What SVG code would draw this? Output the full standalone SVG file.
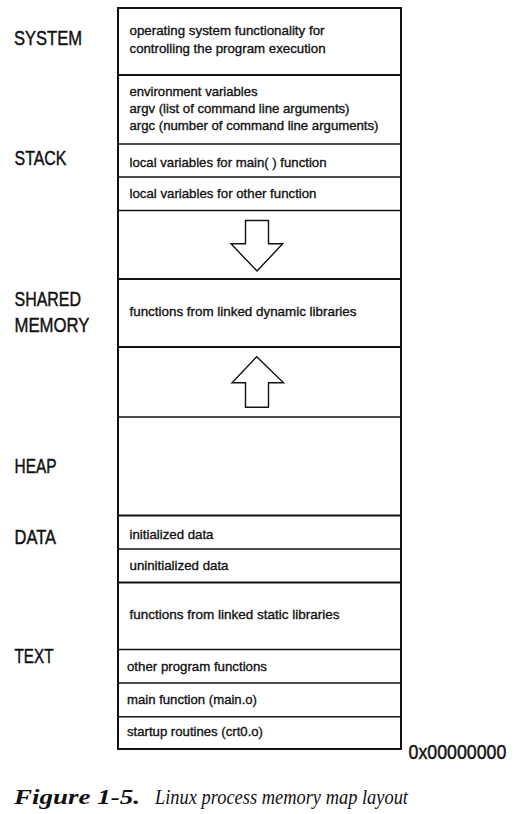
<svg xmlns="http://www.w3.org/2000/svg" width="519" height="814" viewBox="0 0 519 814">
<style>
.bg{fill:#fff}
.frame{fill:none;stroke:#111;stroke-width:2}
.thick{stroke:#111;stroke-width:2;fill:none}
.thin{stroke:#111;stroke-width:1.4;fill:none}
.t{font-family:"Liberation Sans",Arial,sans-serif;font-size:13.6px;fill:#111;stroke:#111;stroke-width:0.35}
.lbl{font-family:"Liberation Sans",Arial,sans-serif;font-size:20.8px;fill:#111;stroke:#111;stroke-width:0.45}
.arrow{fill:#fff;stroke:#111;stroke-width:1.4;stroke-linejoin:miter}
.cap{font-family:"Liberation Serif","Times New Roman",serif;font-size:20.5px;fill:#111;font-style:italic}
</style>
<rect class="bg" x="0" y="0" width="519" height="814"/>

<g id="labels">
<text class="lbl" x="14" y="45" textLength="68" lengthAdjust="spacingAndGlyphs">SYSTEM</text>
<text class="lbl" x="14.5" y="165" textLength="52" lengthAdjust="spacingAndGlyphs">STACK</text>
<text class="lbl" x="14.5" y="306" textLength="66.5" lengthAdjust="spacingAndGlyphs">SHARED</text>
<text class="lbl" x="14.5" y="331.5" textLength="75" lengthAdjust="spacingAndGlyphs">MEMORY</text>
<text class="lbl" x="14.5" y="472.5" textLength="42" lengthAdjust="spacingAndGlyphs">HEAP</text>
<text class="lbl" x="14.5" y="544" textLength="41.5" lengthAdjust="spacingAndGlyphs">DATA</text>
<text class="lbl" x="14.5" y="662.5" textLength="39" lengthAdjust="spacingAndGlyphs">TEXT</text>
<text class="lbl" transform="translate(408.5,759) scale(0.855,1)" x="0" y="0">0x00000000</text>
</g>

<g id="memory-map">
<rect class="frame" x="118" y="8" width="283" height="741"/>
</g>

<g id="system">
<text class="t" x="129.5" y="35" textLength="195" lengthAdjust="spacingAndGlyphs">operating system functionality for</text>
<text class="t" x="129.5" y="52.5" textLength="196" lengthAdjust="spacingAndGlyphs">controlling the program execution</text>
</g>

<g id="stack-env">
<line class="thick" x1="118" y1="75" x2="401" y2="75"/>
<text class="t" x="129.5" y="95.5" textLength="128" lengthAdjust="spacingAndGlyphs">environment variables</text>
<text class="t" x="129.5" y="112.5" textLength="220" lengthAdjust="spacingAndGlyphs">argv (list of command line arguments)</text>
<text class="t" x="129.5" y="129.8" textLength="249" lengthAdjust="spacingAndGlyphs">argc (number of command line arguments)</text>
</g>

<g id="stack-main">
<line class="thin" x1="118" y1="144" x2="401" y2="144"/>
<text class="t" x="129.5" y="167" textLength="197" lengthAdjust="spacingAndGlyphs">local variables for main( ) function</text>
</g>

<g id="stack-other">
<line class="thin" x1="118" y1="177" x2="401" y2="177"/>
<text class="t" x="129.5" y="198" textLength="187" lengthAdjust="spacingAndGlyphs">local variables for other function</text>
</g>

<g id="stack-growth">
<line class="thin" x1="118" y1="210.5" x2="401" y2="210.5"/>
<polygon class="arrow" points="245.5,220.5 268.5,220.5 268.5,243.8 282.7,243.8 257,271 231,243.8 245.5,243.8"/>
</g>

<g id="shared-memory">
<line class="thick" x1="118" y1="279" x2="401" y2="279"/>
<text class="t" x="129.5" y="316" textLength="227" lengthAdjust="spacingAndGlyphs">functions from linked dynamic libraries</text>
</g>

<g id="heap-growth">
<line class="thick" x1="118" y1="347" x2="401" y2="347"/>
<polygon class="arrow" points="245.5,407.3 268.5,407.3 268.5,382.7 283.5,382.7 256.7,356.7 232,382.7 245.5,382.7"/>
</g>

<g id="heap">
<line class="thin" x1="118" y1="417" x2="401" y2="417"/>
</g>

<g id="data-init">
<line class="thick" x1="118" y1="515.5" x2="401" y2="515.5"/>
<text class="t" x="129.5" y="538.7" textLength="84" lengthAdjust="spacingAndGlyphs">initialized data</text>
</g>

<g id="data-uninit">
<line class="thin" x1="118" y1="549" x2="401" y2="549"/>
<text class="t" x="129.5" y="569.7" textLength="99" lengthAdjust="spacingAndGlyphs">uninitialized data</text>
</g>

<g id="text-static">
<line class="thick" x1="118" y1="582.5" x2="401" y2="582.5"/>
<text class="t" x="129.5" y="619" textLength="210" lengthAdjust="spacingAndGlyphs">functions from linked static libraries</text>
</g>

<g id="text-other">
<line class="thin" x1="118" y1="649.5" x2="401" y2="649.5"/>
<text class="t" x="127" y="671" textLength="140" lengthAdjust="spacingAndGlyphs">other program functions</text>
</g>

<g id="text-main">
<line class="thin" x1="118" y1="683" x2="401" y2="683"/>
<text class="t" x="127" y="704.3" textLength="130" lengthAdjust="spacingAndGlyphs">main function (main.o)</text>
</g>

<g id="text-startup">
<line class="thin" x1="118" y1="716.8" x2="401" y2="716.8"/>
<text class="t" x="127" y="736" textLength="136" lengthAdjust="spacingAndGlyphs">startup routines (crt0.o)</text>
</g>

<g id="connectors"></g>

<g id="caption">
<text class="cap" x="14" y="804"><tspan font-weight="bold" textLength="126" lengthAdjust="spacingAndGlyphs">Figure 1-5.</tspan><tspan x="155" textLength="253" lengthAdjust="spacingAndGlyphs">Linux process memory map layout</tspan></text>
</g>
</svg>
